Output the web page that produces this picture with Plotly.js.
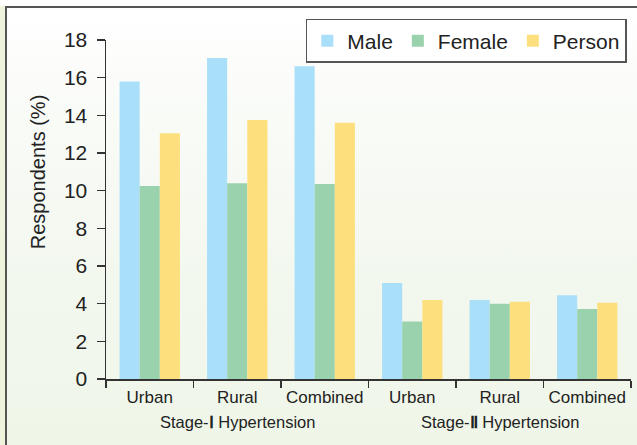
<!DOCTYPE html>
<html>
<head>
<meta charset="utf-8">
<script src="https://cdn.plot.ly/plotly-3.0.1.min.js"></script>
<style>
  html, body { margin: 0; padding: 0; background: #ffffff; }
  #wrap { position: relative; width: 637px; height: 445px; background: #eef3dc; overflow: hidden; }
  #frame { position: absolute; left: 5px; top: 6px; right: -2px; bottom: -2px;
           border-left: 2px solid #555; border-top: 2px solid #555;
           background: linear-gradient(to bottom, #ffffff 0%, #f9fbf7 25%, #f3f8ef 60%, #eff6e8 100%); }
  #topstrip { position:absolute; left:0; top:0; width:637px; height:6px; background:#ffffff; }
  #chart { position: absolute; left: 0; top: 0; width: 637px; height: 445px; }
</style>
</head>
<body>
<div id="wrap">
  <div id="topstrip"></div>
  <div id="frame"></div>
  <div id="chart"></div>
</div>
<script>
const categories = ["Urban-I", "Rural-I", "Combined-I", "Urban-II", "Rural-II", "Combined-II"];
const categoryLabels = ["Urban", "Rural", "Combined", "Urban", "Rural", "Combined"];
const groupLabels = ["Stage-Ⅰ Hypertension", "Stage-Ⅱ Hypertension"];
const groupCenters = [1, 4];
const seriesNames = ["Male", "Female", "Person"];
const male = [15.8, 17.05, 16.6, 5.1, 4.2, 4.45];
const female = [10.25, 10.4, 10.35, 3.05, 4.0, 3.72];
const person = [13.05, 13.75, 13.6, 4.2, 4.1, 4.05];
const yTicks = [0, 2, 4, 6, 8, 10, 12, 14, 16, 18];
const yTitle = "Respondents (%)";
const colors = ["#aadff9", "#9ad2ad", "#fedf7e"];

const values = [male, female, person];
const traces = values.map((v, i) => ({
  type: "bar",
  name: seriesNames[i],
  x: categories,
  y: v,
  marker: { color: colors[i], line: { width: 0 } },
  hoverinfo: "y"
}));

// Roman numerals drawn heavier, as in the reference
const styleNumerals = s => s.replace(/([ⅠⅡ])/g, '<b>$1</b>');

const annotations = groupLabels.map((g, i) => ({
  text: styleNumerals(g),
  x: groupCenters[i], xref: "x",
  y: -0.128, yref: "paper",
  xanchor: "center", yanchor: "middle",
  showarrow: false,
  font: { size: 16.5, color: "#222" }
}));
annotations.push({
  text: yTitle,
  textangle: -90,
  x: -0.1295, xref: "paper",
  y: 0.61, yref: "paper",
  xanchor: "center", yanchor: "middle",
  showarrow: false,
  font: { size: 20, color: "#222" }
});

const layout = {
  width: 637, height: 445,
  margin: { l: 106, r: 6, t: 40, b: 66 },
  paper_bgcolor: "rgba(0,0,0,0)",
  plot_bgcolor: "rgba(0,0,0,0)",
  font: { family: "Liberation Sans, Arial, sans-serif", color: "#222" },
  barmode: "group",
  bargap: 0.31,
  bargroupgap: 0,
  showlegend: true,
  legend: {
    orientation: "h",
    x: 0.992, xanchor: "right",
    y: 1.062, yanchor: "top",
    bgcolor: "#ffffff",
    bordercolor: "#555",
    borderwidth: 1.5,
    font: { size: 21, color: "#222" },
    itemwidth: 30,
    tracegroupgap: 0
  },
  annotations: annotations,
  xaxis: {
    type: "category",
    tickvals: categories,
    ticktext: categoryLabels,
    tickson: "boundaries",
    tickangle: 0,
    showline: true, linecolor: "#333", linewidth: 1.5,
    ticks: "outside", ticklen: 7, tickcolor: "#333", tickwidth: 1.5,
    ticklabelstandoff: 2,
    tickfont: { size: 17, color: "#222" },
    showgrid: false, zeroline: false
  },
  yaxis: {
    range: [0, 18],
    tickvals: yTicks,
    ticktext: yTicks.map(String),
    showline: true, linecolor: "#333", linewidth: 1.5,
    ticks: "outside", ticklen: 8, tickcolor: "#333", tickwidth: 1.5,
    ticklabelstandoff: 5,
    tickfont: { size: 21, color: "#222" },
    showgrid: false, zeroline: false
  }
};

Plotly.newPlot("chart", traces, layout, { displayModeBar: false, staticPlot: true });
</script>
</body>
</html>
